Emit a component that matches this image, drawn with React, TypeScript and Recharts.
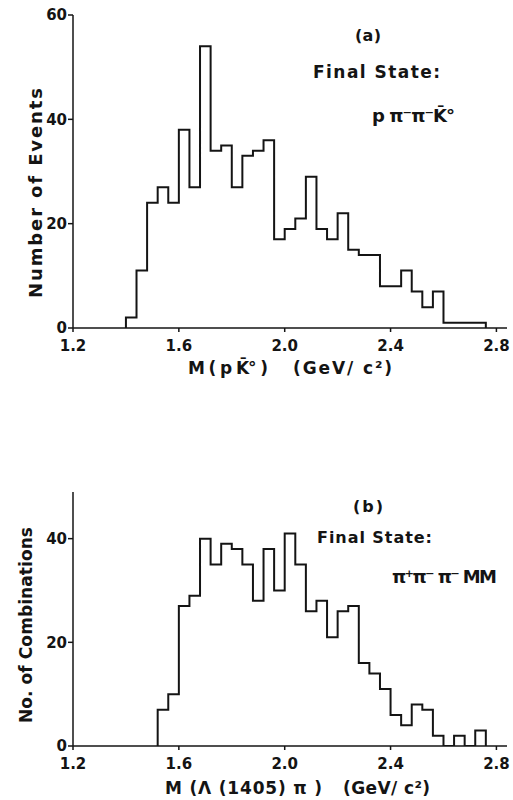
import React from "react";
import { LineChart, Line, XAxis, YAxis } from "recharts";

// ---- data ----
const binWidth = 0.04;

// (a) M(p K̄°) histogram: counts per 0.04 GeV bin, first bin starts at 1.40
const aBinStart = 1.4;
const aCounts = [
  2, 11, 24, 27, 24, 38, 27, 54, 34, 35,
  27, 33, 34, 36, 17, 19, 21, 29, 19, 17,
  22, 15, 14, 14, 8, 8, 11, 7, 4, 7,
  1, 1, 1, 1,
];

// (b) M(Λ(1405)π) histogram: counts per 0.04 GeV bin, first bin starts at 1.52
const bBinStart = 1.52;
const bCounts = [
  7, 10, 27, 29, 40, 35, 39, 38, 35, 28,
  38, 30, 41, 35, 26, 28, 21, 26, 27, 16,
  14, 11, 6, 4, 8, 7, 2, 0, 2, 0,
  3,
];

const xTicks = [1.2, 1.6, 2.0, 2.4, 2.8];
const aYTicks = [0, 20, 40, 60];
const bYTicks = [0, 20, 40];

// build step outline points from bin edges
function outline(start: number, counts: number[]) {
  const pts = [{ x: start, y: 0 }];
  counts.forEach((c, i) => {
    pts.push({ x: +(start + i * binWidth).toFixed(2), y: c });
  });
  pts.push({ x: +(start + counts.length * binWidth).toFixed(2), y: 0 });
  return pts;
}

const aData = outline(aBinStart, aCounts);
const bData = outline(bBinStart, bCounts);

const FONT = '"DejaVu Sans", "Liberation Sans", sans-serif';
const INK = "#141414";

const tickStyle = { fontFamily: FONT, fontWeight: 700, fontSize: 15, fill: INK };

function Panel({
  data,
  yMax,
  yTicks,
  top,
  marginTop,
  marginBottom,
  xTickMargin,
}: {
  data: { x: number; y: number }[];
  yMax: number;
  yTicks: number[];
  top: number;
  marginTop: number;
  marginBottom: number;
  xTickMargin: number;
}) {
  return (
    <div style={{ position: "absolute", left: 0, top, width: 513, height: 400 }}>
      <LineChart
        width={513}
        height={400}
        data={data}
        margin={{ top: marginTop, right: 6, bottom: marginBottom, left: 13 }}
      >
        <XAxis
          dataKey="x"
          type="number"
          domain={[1.2, 2.84]}
          ticks={xTicks}
          interval={0}
          allowDataOverflow
          tickFormatter={(v: number) => v.toFixed(1)}
          tick={tickStyle}
          tickSize={4}
          tickMargin={xTickMargin}
          axisLine={{ stroke: INK, strokeWidth: 1.5 }}
          tickLine={{ stroke: INK, strokeWidth: 1.5 }}
          height={30}
        />
        <YAxis
          type="number"
          domain={[0, yMax]}
          ticks={yTicks}
          interval={0}
          allowDataOverflow
          tick={tickStyle}
          tickSize={5}
          tickMargin={1}
          axisLine={{ stroke: INK, strokeWidth: 1.5 }}
          tickLine={{ stroke: INK, strokeWidth: 1.5 }}
          width={60}
        />
        <Line
          type="stepAfter"
          dataKey="y"
          stroke={INK}
          strokeWidth={2}
          dot={false}
          activeDot={false}
          isAnimationActive={false}
        />
      </LineChart>
    </div>
  );
}

export default function App() {
  const t = { fontFamily: FONT, fontWeight: 700, fill: INK } as const;
  return (
    <div style={{ position: "absolute", left: 0, top: 0, width: 513, height: 800, background: "#fff" }}>
      <Panel data={aData} yMax={60} yTicks={aYTicks} top={0} marginTop={15} marginBottom={42} xTickMargin={8} />
      <Panel data={bData} yMax={49} yTicks={bYTicks} top={400} marginTop={92} marginBottom={24} xTickMargin={8} />
      <svg
        width={513}
        height={800}
        style={{ position: "absolute", left: 0, top: 0, pointerEvents: "none" }}
      >
        {/* panel (a) */}
        <text {...t} fontSize={18} x={42} y={193} textAnchor="middle" textLength={210} lengthAdjust="spacing" transform="rotate(-90 42 193)">
          Number of Events
        </text>
        <text {...t} fontSize={17} x={188} y={374} textLength={80} lengthAdjust="spacing">
          M ( p K̄° )
        </text>
        <text {...t} fontSize={17} x={293} y={374} textLength={99} lengthAdjust="spacing">
          (GeV/ c²)
        </text>
        <text {...t} fontSize={16} x={355} y={41} textLength={26} lengthAdjust="spacing">
          ( a )
        </text>
        <text {...t} fontSize={17} x={313} y={78} textLength={127} lengthAdjust="spacing">
          Final State:
        </text>
        <text {...t} fontSize={18} x={372} y={122} textLength={83} lengthAdjust="spacing">
          p π⁻π⁻K̄°
        </text>

        {/* panel (b) */}
        <text {...t} fontSize={17} x={32} y={625} textAnchor="middle" textLength={196} lengthAdjust="spacing" transform="rotate(-90 32 625)">
          No. of Combinations
        </text>
        <text {...t} fontSize={17} x={165} y={794} textLength={157} lengthAdjust="spacing">
          M (Λ (1405) π )
        </text>
        <text {...t} fontSize={17} x={343} y={794} textLength={87} lengthAdjust="spacing">
          (GeV/ c²)
        </text>
        <text {...t} fontSize={16} x={353} y={512} textLength={30} lengthAdjust="spacing">
          ( b )
        </text>
        <text {...t} fontSize={16} x={317} y={543} textLength={115} lengthAdjust="spacing">
          Final State:
        </text>
        <text {...t} fontSize={18} x={392} y={583} textLength={105} lengthAdjust="spacing">
          π⁺π⁻ π⁻ MM
        </text>
      </svg>
    </div>
  );
}
